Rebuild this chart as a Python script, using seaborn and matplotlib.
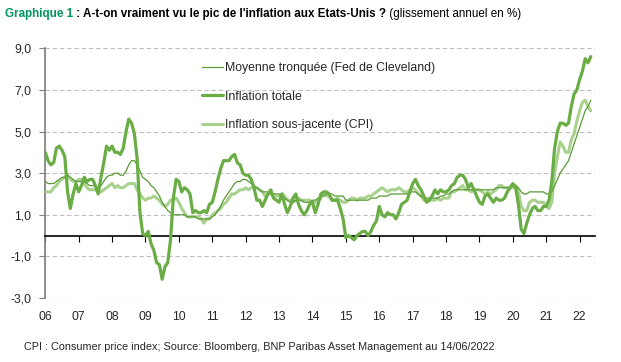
import numpy as np
import pandas as pd
import matplotlib
matplotlib.use('Agg')
import matplotlib.pyplot as plt
import seaborn as sns
from matplotlib.ticker import FuncFormatter

# Glissement annuel mensuel, janvier 2006 -> mai 2022
inflation_totale = [
    4.0, 3.6, 3.4, 3.5, 4.2, 4.3, 4.1, 3.8, 2.1, 1.3, 2.0, 2.5,
    2.1, 2.4, 2.8, 2.6, 2.7, 2.7, 2.4, 2.0, 2.8, 3.5, 4.3, 4.1,
    4.3, 4.0, 4.0, 3.9, 4.2, 5.0, 5.6, 5.4, 4.9, 3.7, 1.1, 0.1,
    0.0, 0.2, -0.4, -0.7, -1.3, -1.4, -2.1, -1.5, -1.3, -0.2, 1.8, 2.7,
    2.6, 2.1, 2.3, 2.2, 2.0, 1.1, 1.2, 1.1, 1.1, 1.2, 1.1, 1.5,
    1.6, 2.1, 2.7, 3.2, 3.6, 3.6, 3.6, 3.8, 3.9, 3.5, 3.4, 3.0,
    2.9, 2.9, 2.7, 2.3, 1.7, 1.7, 1.4, 1.7, 2.0, 2.2, 1.8, 1.7,
    1.6, 2.0, 1.5, 1.1, 1.4, 1.8, 2.0, 1.5, 1.2, 1.0, 1.2, 1.5,
    1.6, 1.1, 1.5, 2.0, 2.1, 2.1, 2.0, 1.7, 1.7, 1.7, 1.3, 0.8,
    -0.1, 0.0, -0.1, -0.2, 0.0, 0.1, 0.2, 0.2, 0.0, 0.2, 0.5, 0.7,
    1.4, 1.0, 0.9, 1.1, 1.0, 1.0, 0.8, 1.1, 1.5, 1.6, 1.7, 2.1,
    2.5, 2.7, 2.4, 2.2, 1.9, 1.6, 1.7, 1.9, 2.2, 2.0, 2.2, 2.1,
    2.1, 2.2, 2.4, 2.5, 2.8, 2.9, 2.9, 2.7, 2.3, 2.5, 2.2, 1.9,
    1.6, 1.5, 1.9, 2.0, 1.8, 1.6, 1.8, 1.7, 1.7, 1.8, 2.1, 2.3,
    2.5, 2.3, 1.5, 0.3, 0.1, 0.6, 1.0, 1.3, 1.4, 1.2, 1.2, 1.4,
    1.4, 1.7, 2.6, 4.2, 5.0, 5.4, 5.4, 5.3, 5.4, 6.2, 6.8, 7.0,
    7.5, 7.9, 8.5, 8.3, 8.6,
]

inflation_sous_jacente = [
    2.1, 2.1, 2.1, 2.3, 2.4, 2.6, 2.7, 2.8, 2.9, 2.7, 2.6, 2.6,
    2.7, 2.7, 2.5, 2.3, 2.2, 2.2, 2.2, 2.1, 2.1, 2.2, 2.3, 2.4,
    2.5, 2.3, 2.4, 2.3, 2.3, 2.4, 2.5, 2.5, 2.5, 2.2, 2.0, 1.8,
    1.7, 1.8, 1.8, 1.9, 1.8, 1.7, 1.5, 1.4, 1.5, 1.7, 1.7, 1.8,
    1.6, 1.3, 1.1, 0.9, 0.9, 0.9, 0.9, 0.9, 0.8, 0.6, 0.8, 0.8,
    1.0, 1.1, 1.2, 1.3, 1.5, 1.6, 1.8, 2.0, 2.0, 2.1, 2.2, 2.2,
    2.3, 2.2, 2.3, 2.3, 2.3, 2.2, 2.1, 1.9, 2.0, 2.0, 1.9, 1.9,
    1.9, 2.0, 1.9, 1.7, 1.7, 1.6, 1.7, 1.8, 1.7, 1.7, 1.7, 1.7,
    1.6, 1.6, 1.7, 1.8, 2.0, 1.9, 1.9, 1.7, 1.7, 1.8, 1.7, 1.6,
    1.6, 1.7, 1.8, 1.8, 1.7, 1.8, 1.8, 1.8, 1.9, 1.9, 2.0, 2.1,
    2.2, 2.3, 2.2, 2.1, 2.2, 2.2, 2.2, 2.3, 2.2, 2.1, 2.1, 2.2,
    2.3, 2.2, 2.0, 1.9, 1.7, 1.7, 1.7, 1.7, 1.7, 1.8, 1.7, 1.8,
    1.8, 1.8, 2.1, 2.1, 2.2, 2.3, 2.4, 2.2, 2.2, 2.1, 2.2, 2.2,
    2.2, 2.1, 2.0, 2.1, 2.0, 2.1, 2.2, 2.4, 2.4, 2.3, 2.3, 2.3,
    2.3, 2.4, 2.1, 1.4, 1.2, 1.2, 1.6, 1.7, 1.7, 1.6, 1.6, 1.6,
    1.4, 1.3, 1.6, 3.0, 3.8, 4.5, 4.3, 4.0, 4.0, 4.6, 4.9, 5.5,
    6.0, 6.4, 6.5, 6.2, 6.0,
]

moyenne_tronquee = [
    2.6, 2.5, 2.5, 2.5, 2.6, 2.7, 2.8, 2.8, 2.9, 2.8, 2.7, 2.6,
    2.6, 2.6, 2.6, 2.5, 2.4, 2.4, 2.4, 2.3, 2.4, 2.6, 2.8, 2.9,
    2.9, 3.0, 3.0, 2.9, 2.9, 3.1, 3.4, 3.6, 3.6, 3.4, 3.1, 2.8,
    2.7, 2.6, 2.4, 2.3, 2.1, 1.9, 1.6, 1.4, 1.2, 1.1, 1.0, 1.0,
    1.0, 1.0, 1.0, 0.9, 0.9, 0.9, 0.9, 0.8, 0.8, 0.8, 0.8, 0.8,
    0.9, 1.0, 1.2, 1.4, 1.7, 1.9, 2.1, 2.3, 2.5, 2.6, 2.6, 2.7,
    2.7, 2.6, 2.5, 2.4, 2.3, 2.2, 2.1, 2.1, 2.1, 2.1, 2.0, 2.0,
    2.0, 1.9, 1.8, 1.7, 1.6, 1.6, 1.7, 1.7, 1.7, 1.6, 1.6, 1.6,
    1.7, 1.7, 1.8, 1.9, 1.9, 2.0, 2.0, 2.0, 1.9, 1.9, 1.9, 1.9,
    1.7, 1.7, 1.7, 1.7, 1.7, 1.7, 1.7, 1.7, 1.7, 1.8, 1.8, 1.8,
    1.9, 1.9, 1.9, 1.9, 2.0, 2.0, 2.0, 2.0, 2.0, 2.0, 2.0, 2.1,
    2.1, 2.1, 2.0, 1.9, 1.8, 1.8, 1.8, 1.8, 1.8, 1.8, 1.9, 1.9,
    2.0, 2.0, 2.1, 2.2, 2.2, 2.2, 2.2, 2.2, 2.2, 2.2, 2.2, 2.2,
    2.2, 2.2, 2.2, 2.2, 2.2, 2.2, 2.3, 2.3, 2.3, 2.3, 2.3, 2.3,
    2.4, 2.4, 2.3, 2.1, 2.0, 2.0, 2.1, 2.1, 2.1, 2.1, 2.1, 2.1,
    2.0, 2.0, 2.1, 2.4, 2.7, 3.0, 3.2, 3.4, 3.6, 4.0, 4.4, 4.8,
    5.2, 5.6, 6.0, 6.2, 6.5,
]

annees = list(range(2006, 2023))
etiquettes_annees = ['06', '07', '08', '09', '10', '11', '12', '13', '14',
                     '15', '16', '17', '18', '19', '20', '21', '22']

lab_moy = 'Moyenne tronquée (Fed de Cleveland)'
lab_tot = 'Inflation totale'
lab_core = 'Inflation sous-jacente (CPI)'

dates = 2006 + np.arange(len(inflation_totale)) / 12
df = pd.DataFrame({'date': dates, lab_moy: moyenne_tronquee,
                   lab_tot: inflation_totale, lab_core: inflation_sous_jacente})

sns.set_theme(style='white')
plt.rcParams['font.family'] = ['Liberation Sans', 'DejaVu Sans']

fig = plt.figure(figsize=(6.21, 3.62), dpi=100)
ax = fig.add_axes([45.3 / 621, 1 - 298 / 362, (595 - 45.3) / 621, (298 - 48.3) / 362])

vert_clair = '#a9d18e'
vert = '#6aad45'
vert_fonce = '#5a9a35'

sns.lineplot(data=df, x='date', y=lab_core, color=vert_clair, lw=2.2, ax=ax, label=lab_core, zorder=3)
sns.lineplot(data=df, x='date', y=lab_moy, color=vert_fonce, lw=0.9, ax=ax, label=lab_moy, zorder=4)
sns.lineplot(data=df, x='date', y=lab_tot, color=vert, lw=2.3, ax=ax, label=lab_tot, zorder=5)

ax.set_xlim(2006, 2022.46)
ax.set_ylim(-3, 9)
yt = [-3, -1, 1, 3, 5, 7, 9]
ax.set_yticks(yt)
ax.yaxis.set_major_formatter(FuncFormatter(lambda v, p: f'{v:.1f}'.replace('.', ',')))
for v in yt:
    ax.axhline(v, color='#bfbfbf', lw=0.8, ls=(0, (4, 2.5)), zorder=1)

ax.spines['top'].set_visible(False)
ax.spines['right'].set_visible(False)
ax.spines['left'].set_color('#808080')
ax.spines['bottom'].set_position(('data', 0))
ax.spines['bottom'].set_color('black')
ax.spines['bottom'].set_linewidth(1.2)

ax.set_xticks(annees)
ax.set_xticklabels(etiquettes_annees)
ax.tick_params(axis='x', direction='out', length=4, color='black', width=0.8,
               pad=50, labelsize=8.8, bottom=True)
ax.tick_params(axis='y', direction='out', length=4, color='#808080', width=0.8,
               pad=6, labelsize=8.8, left=True)
ax.set_xlabel('')
ax.set_ylabel('')

h, l = ax.get_legend_handles_labels()
ordre = [l.index(lab_moy), l.index(lab_tot), l.index(lab_core)]
ax.legend([h[i] for i in ordre], [l[i] for i in ordre], loc='upper left',
          bbox_to_anchor=(202 / 621, 1 - 62 / 362), bbox_transform=fig.transFigure,
          frameon=False, fontsize=8.8, handlelength=1.7, handletextpad=0.15,
          labelspacing=1.37, borderpad=0, borderaxespad=0)

# Titre en trois morceaux
renderer = fig.canvas.get_renderer()
x0, y0 = 5 / 621, 1 - 14 / 362
parts = [('Graphique 1', '#00965e', 'bold'),
         (' : A-t-on vraiment vu le pic de l\'inflation aux Etats-Unis ?', 'black', 'bold'),
         (' (glissement annuel en %)', 'black', 'normal')]
for txt, col, w in parts:
    t = fig.text(x0, y0, txt, color=col, weight=w, fontsize=8.4, va='center', ha='left')
    bb = t.get_window_extent(renderer=renderer)
    x0 = fig.transFigure.inverted().transform((bb.x1, bb.y0))[0]

fig.text(24 / 621, 1 - 347 / 362,
         'CPI : Consumer price index; Source: Bloomberg, BNP Paribas Asset Management au 14/06/2022',
         fontsize=7.8, va='center', ha='left')

fig.savefig('out.png', dpi=100)
